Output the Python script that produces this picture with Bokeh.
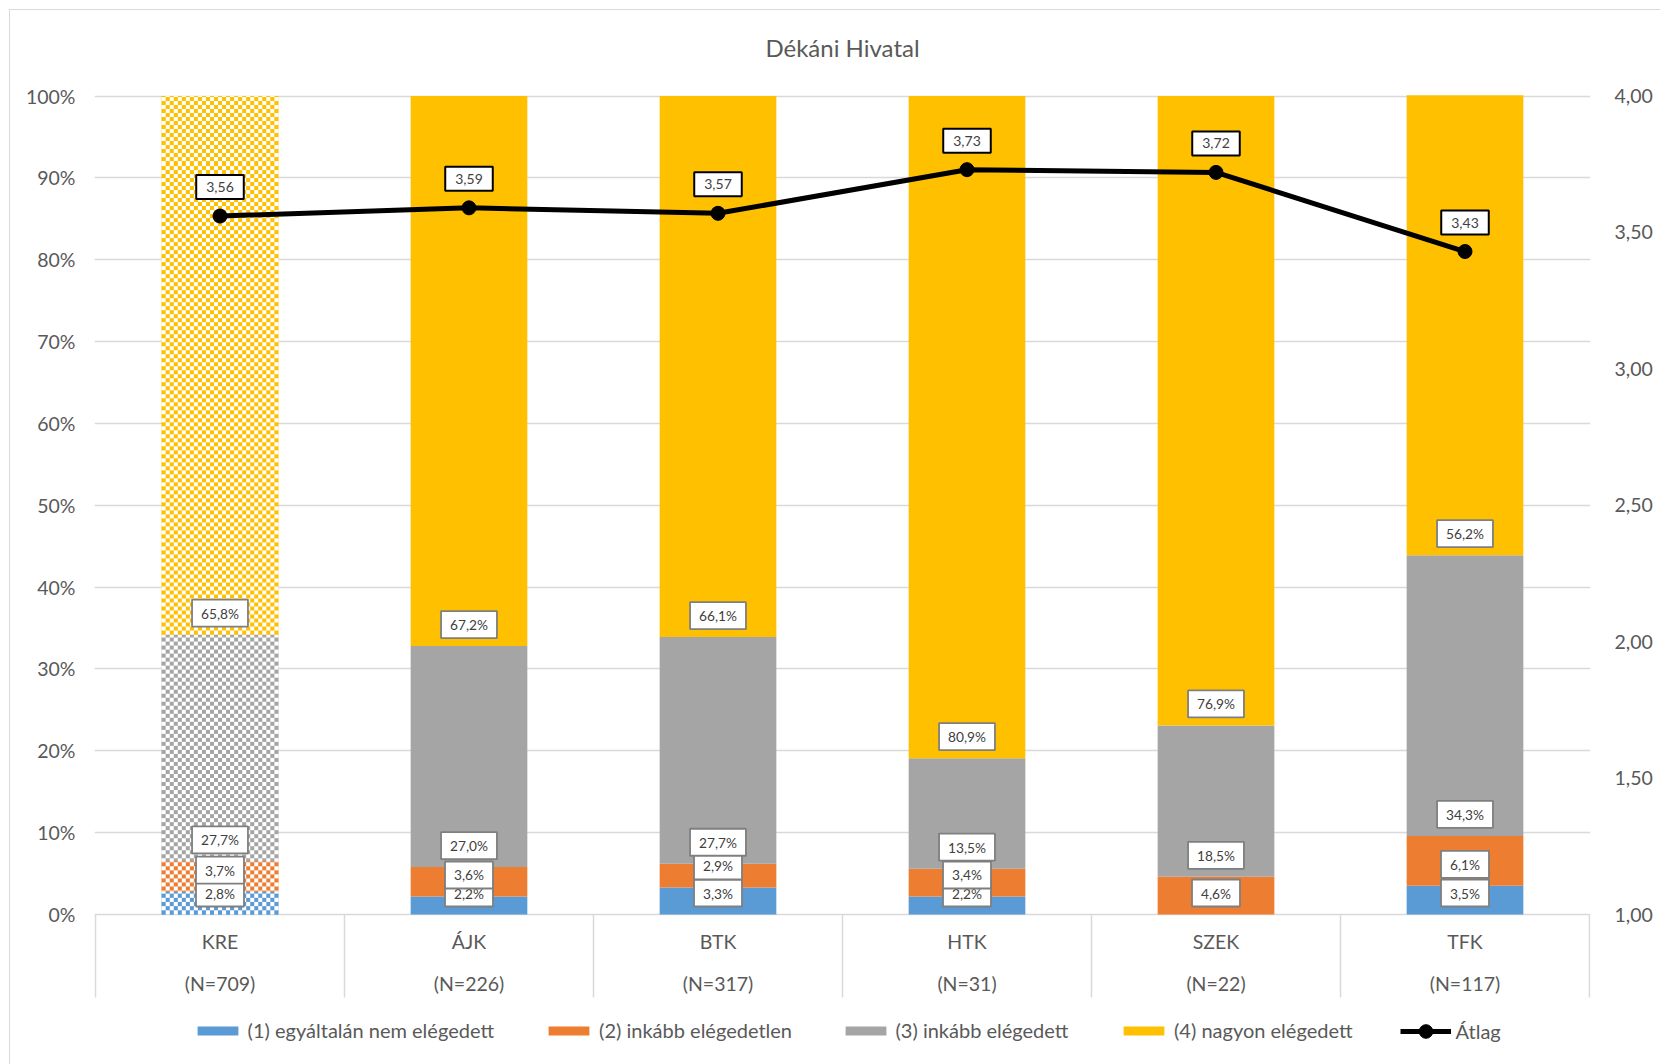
import numpy as np
from bokeh.plotting import figure
from bokeh.models import (ColumnDataSource, Range1d, LinearAxis, FixedTicker,
                          Legend, LegendItem)
from bokeh.core.properties import value
from bokeh.embed import file_html
from bokeh.resources import INLINE

# ---------------- data ----------------
chart_title = "Dékáni Hivatal"
categories = ["KRE", "ÁJK", "BTK", "HTK", "SZEK", "TFK"]
n_labels = ["(N=709)", "(N=226)", "(N=317)", "(N=31)", "(N=22)", "(N=117)"]
series_names = ["(1) egyáltalán nem elégedett", "(2) inkább elégedetlen",
                "(3) inkább elégedett", "(4) nagyon elégedett"]
s1 = [2.8, 2.2, 3.3, 2.2, 0.0, 3.5]
s2 = [3.7, 3.6, 2.9, 3.4, 4.6, 6.1]
s3 = [27.7, 27.0, 27.7, 13.5, 18.5, 34.3]
s4 = [65.8, 67.2, 66.1, 80.9, 76.9, 56.2]
avg_name = "Átlag"
avg = [3.56, 3.59, 3.57, 3.73, 3.72, 3.43]
pct_ticks = [0, 10, 20, 30, 40, 50, 60, 70, 80, 90, 100]
pct_tick_labels = ["0%", "10%", "20%", "30%", "40%", "50%", "60%", "70%", "80%", "90%", "100%"]
avg_ticks = [1.0, 1.5, 2.0, 2.5, 3.0, 3.5, 4.0]
avg_tick_labels = ["1,00", "1,50", "2,00", "2,50", "3,00", "3,50", "4,00"]

# ---------------- style / layout ----------------
colors = ["#5B9BD5", "#ED7D31", "#A5A5A5", "#FFC000"]
FONT = "Lato"
AXIS_COLOR = "#595959"
GRID_COLOR = "#D9D9D9"
AX_FS = "19.5px"
BAR_W = 0.4686
CHECK_PX = 4

MARGIN = 10
W, H = 1660 - MARGIN, 1064 - MARGIN
FRAME_L, FRAME_R = 94, 1590          # page px
X0_PAGE, X6_PAGE = 95, 1589
ppx = (X6_PAGE - X0_PAGE) / len(categories)
x_start = -(X0_PAGE - FRAME_L) / ppx
x_end = len(categories) + (FRAME_R - X6_PAGE) / ppx

Y0_PAGE, Y100_PAGE = 914.0, 95.5
ppy = (Y0_PAGE - Y100_PAGE) / 100.0
FRAME_T, FRAME_B = 20, 1060
y_end = (Y0_PAGE - FRAME_T) / ppy
y_start = -(FRAME_B - Y0_PAGE) / ppy


def page_y(py):
    return (Y0_PAGE - py) / ppy


avg_lo, avg_hi = avg_ticks[0], avg_ticks[-1]
avg_start = avg_lo + (avg_hi - avg_lo) * y_start / 100.0
avg_end = avg_lo + (avg_hi - avg_lo) * y_end / 100.0

p = figure(width=W, height=H,
           x_range=Range1d(x_start, x_end), y_range=Range1d(y_start, y_end),
           x_axis_location=None, y_axis_location="left",
           output_backend="svg", toolbar_location=None,
           min_border_left=FRAME_L - MARGIN, min_border_right=1660 - FRAME_R,
           min_border_top=FRAME_T - MARGIN, min_border_bottom=1064 - FRAME_B)
p.margin = (MARGIN, 0, 0, MARGIN)
p.styles = {"outline": "1.5px solid #D9D9D9"}
p.outline_line_color = None
p.background_fill_color = "white"
p.border_fill_color = "white"
p.extra_y_ranges = {"avg": Range1d(avg_start, avg_end)}

# grid
p.xgrid.visible = False
p.ygrid.ticker = FixedTicker(ticks=pct_ticks)
p.ygrid.grid_line_color = GRID_COLOR
p.ygrid.grid_line_width = 1.3

# left axis
ya = p.yaxis[0]
ya.ticker = FixedTicker(ticks=pct_ticks)
ya.major_label_overrides = dict(zip(pct_ticks, pct_tick_labels))
ya.axis_line_color = None
ya.major_tick_line_color = None
ya.minor_tick_line_color = None
ya.major_tick_out = 0
ya.major_tick_in = 0
ya.minor_tick_out = 0
ya.major_label_standoff = 19
ya.major_label_text_font = FONT
ya.major_label_text_font_size = AX_FS
ya.major_label_text_color = AXIS_COLOR

# right axis
ra = LinearAxis(y_range_name="avg", ticker=FixedTicker(ticks=avg_ticks))
ra.major_label_overrides = dict(zip(avg_ticks, avg_tick_labels))
ra.axis_line_color = None
ra.major_tick_line_color = None
ra.minor_tick_line_color = None
ra.major_tick_out = 0
ra.major_tick_in = 0
ra.minor_tick_out = 0
ra.major_label_standoff = 24
ra.major_label_text_font = FONT
ra.major_label_text_font_size = AX_FS
ra.major_label_text_color = AXIS_COLOR
p.add_layout(ra, "right")

centers = [i + 0.5 for i in range(len(categories))]
bounds = list(range(len(categories) + 1))

# category dividers
p.segment(x0=bounds, y0=[0] * len(bounds), x1=bounds, y1=[page_y(997)] * len(bounds),
          line_color=GRID_COLOR, line_width=1.5)


def hex_rgba(hx):
    hx = hx.lstrip("#")
    return [int(hx[0:2], 16), int(hx[2:4], 16), int(hx[4:6], 16), 255]


# stacked bars
series = [s1, s2, s3, s4]
bottoms = np.zeros(len(categories))
bar_renderers = []
lab_x, lab_y, lab_t = [], [], []
for k, vals in enumerate(series):
    vals = np.array(vals, dtype=float)
    src = ColumnDataSource(dict(x=centers, bottom=bottoms.copy(), top=bottoms + vals))
    r = p.vbar(x="x", bottom="bottom", top="top", width=BAR_W, source=src,
               fill_color=colors[k], line_color=None)
    bar_renderers.append(r)
    for i, v in enumerate(vals):
        if v > 0:
            lab_x.append(centers[i])
            lab_y.append(bottoms[i])
            lab_t.append(f"{v:.1f}%".replace(".", ","))
    bottoms = bottoms + vals

# checkerboard overlay for the KRE (total) bar, drawn as images spanning each segment
kre = categories.index("KRE")
w_px = int(round(BAR_W * ppx))
base = 0.0
for k, vals in enumerate(series):
    v = float(vals[kre])
    if v <= 0:
        continue
    row0 = int(round(base * ppy))
    h_px = max(1, int(round((base + v) * ppy)) - row0)
    yy, xx = np.mgrid[row0:row0 + h_px, 0:w_px]
    mask = ((yy // CHECK_PX + xx // CHECK_PX) % 2) == 0
    rgba = np.zeros((h_px, w_px, 4), dtype=np.uint8)
    rgba[...] = [255, 255, 255, 255]
    rgba[mask] = hex_rgba(colors[k])
    img = rgba.view(dtype=np.uint32).reshape((h_px, w_px))
    p.image_rgba(image=[img], x=[centers[kre] - BAR_W / 2], y=[base], dw=[BAR_W], dh=[v])
    base += v

# data labels (inside base)
lab_src = ColumnDataSource(dict(x=lab_x, y=lab_y, text=lab_t))
p.text(x="x", y="y", text="text", source=lab_src, y_offset=-21.5,
       text_font=value(FONT), text_font_size="13.7px", text_color="#404040",
       text_align="center", text_baseline="middle",
       background_fill_color="white", border_line_color="#7F7F7F", border_line_width=1.8,
       padding=dict(left=9, right=9, top=5, bottom=5))

# average line
avg_src = ColumnDataSource(dict(x=centers, y=avg, text=[f"{a:.2f}".replace(".", ",") for a in avg]))
ln = p.line(x="x", y="y", source=avg_src, y_range_name="avg", line_color="black", line_width=5)
sc = p.scatter(x="x", y="y", source=avg_src, y_range_name="avg", size=14,
               fill_color="black", line_color="black")
p.text(x="x", y="y", text="text", source=avg_src, y_range_name="avg", y_offset=-29,
       text_font=value(FONT), text_font_size="14px", text_color="#404040",
       text_align="center", text_baseline="middle",
       background_fill_color="white", border_line_color="black", border_line_width=2,
       padding=dict(left=10, right=10, top=7, bottom=7))

# category labels
p.text(x=centers, y=[page_y(941)] * len(categories), text=categories,
       text_font=value(FONT), text_font_size=AX_FS, text_color=AXIS_COLOR,
       text_align="center", text_baseline="middle")
p.text(x=centers, y=[page_y(982.5)] * len(categories), text=n_labels,
       text_font=value(FONT), text_font_size=AX_FS, text_color=AXIS_COLOR,
       text_align="center", text_baseline="middle")

# title
p.text(x=[len(categories) / 2], y=[page_y(46.6)], text=[chart_title],
       text_font=value(FONT), text_font_size="24px", text_color=AXIS_COLOR,
       text_align="center", text_baseline="middle")

# legend (one entry per legend to pin positions)
LEG_CY = 1031
leg_x_page = [191.6, 543.1, 839.5, 1118.0, 1399.6]
entries = [(series_names[k], [bar_renderers[k]], 11) for k in range(4)] + \
          [(avg_name, [ln, sc], 34)]
for (name, rends, gh), lx in zip(entries, leg_x_page):
    item = LegendItem(label=name, renderers=rends)
    item_h = max(gh, 22)
    lg = Legend(items=[item], location=(lx - FRAME_L, FRAME_B - LEG_CY - item_h / 2),
                orientation="horizontal", glyph_width=51, glyph_height=gh,
                label_standoff=5, padding=0, margin=0, spacing=0,
                border_line_alpha=0, background_fill_alpha=0,
                label_text_font=FONT, label_text_font_size="20px",
                label_text_color=AXIS_COLOR, label_height=22)
    p.add_layout(lg)

open("out.html", "w").write(file_html(p, INLINE))
